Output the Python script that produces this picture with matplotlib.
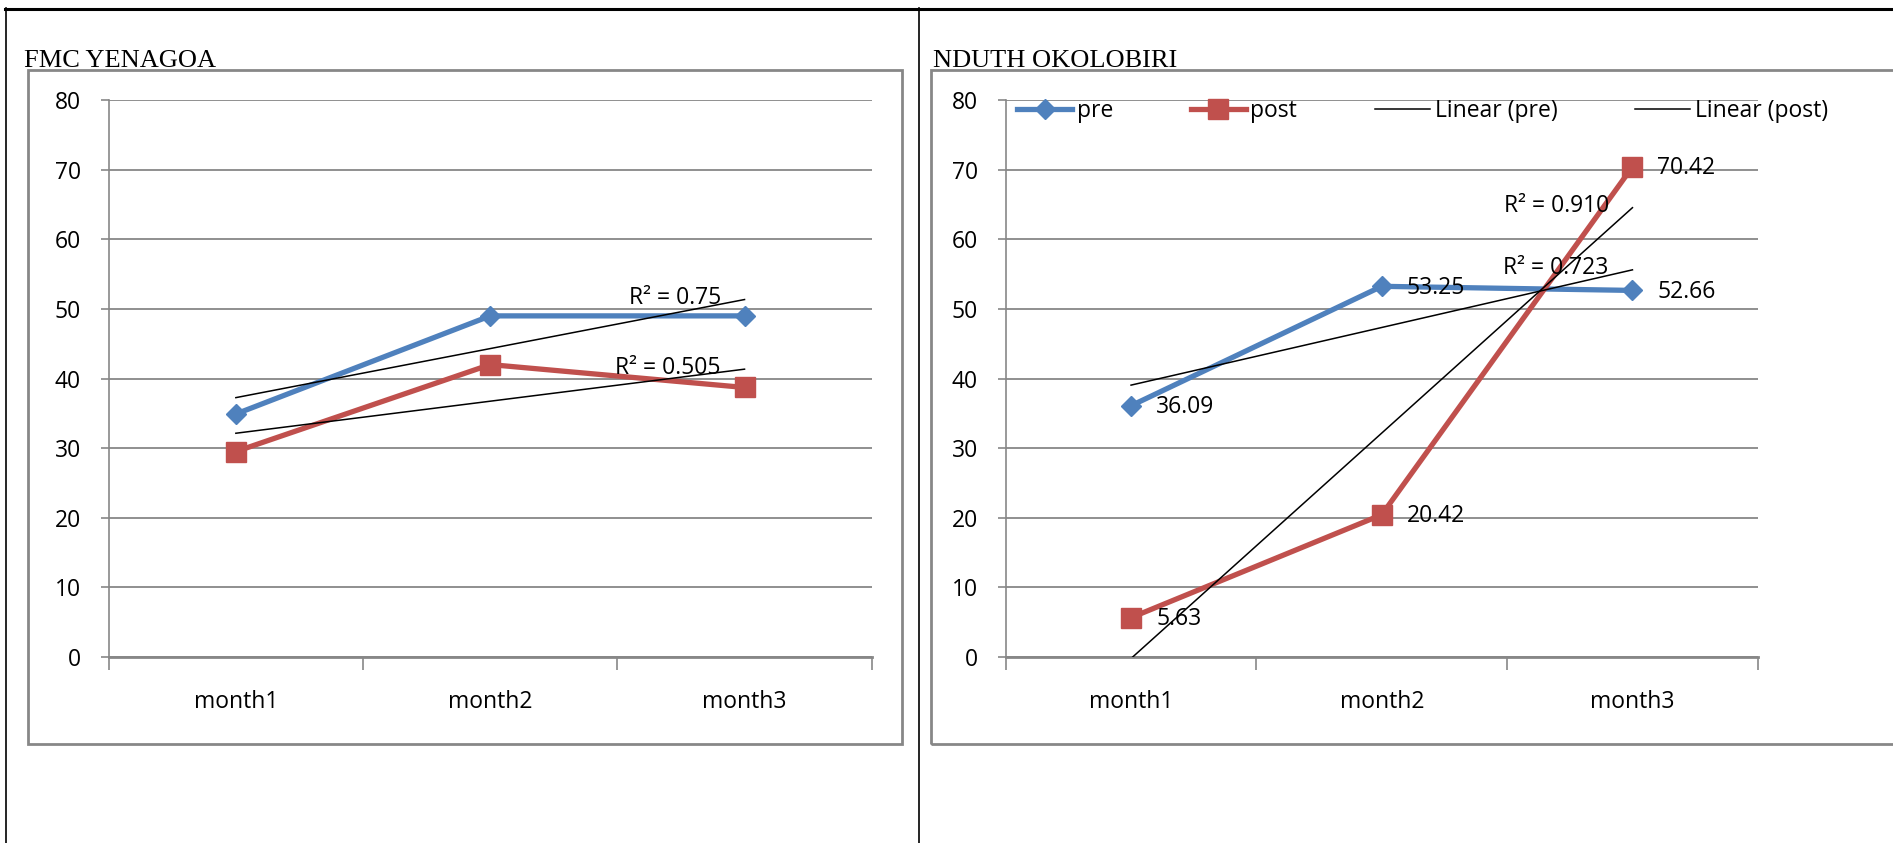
import numpy as np
import matplotlib
matplotlib.use('Agg')
import matplotlib.pyplot as plt
from matplotlib.patches import Rectangle
from matplotlib.lines import Line2D

# data
months = ['month1', 'month2', 'month3']
fmc_pre = [34.9, 49.0, 49.0]
fmc_post = [29.5, 42.0, 38.71]
nduth_pre = [36.09, 53.25, 52.66]
nduth_post = [5.63, 20.42, 70.42]
yticks = [0, 10, 20, 30, 40, 50, 60, 70, 80]

BLUE = '#4F81BD'
RED = '#C0504D'
GRAY = '#878787'
FS = 16.5

plt.rcParams['font.family'] = ['Open Sans', 'DejaVu Sans']

W, H = 1893, 843
fig = plt.figure(figsize=(W / 100, H / 100), dpi=100)


def fx(px):
    return px / W


def fy(py):
    return 1 - py / H


# table borders
fig.add_artist(Line2D([fx(5), 1], [fy(8.5), fy(8.5)], color='black', lw=2.2, transform=fig.transFigure))
fig.add_artist(Line2D([fx(6), fx(6)], [fy(8), 0], color='black', lw=1.2, transform=fig.transFigure))
fig.add_artist(Line2D([fx(918.7), fx(918.7)], [fy(8), 0], color='black', lw=1.2, transform=fig.transFigure))

# chart boxes
fig.add_artist(Rectangle((fx(27.8), fy(743.7)), fx(901.8) - fx(27.8), fy(70) - fy(743.7),
                         fill=False, edgecolor=GRAY, lw=2, transform=fig.transFigure))
fig.add_artist(Rectangle((fx(930.8), fy(743.7)), fx(1900) - fx(930.8), fy(70) - fy(743.7),
                         fill=False, edgecolor=GRAY, lw=2, transform=fig.transFigure))

fig.text(fx(24), fy(67), 'FMC YENAGOA', family='Liberation Serif', fontsize=19, va='baseline')
fig.text(fx(933), fy(67), 'NDUTH OKOLOBIRI', family='Liberation Serif', fontsize=19, va='baseline')


def setup(ax):
    ax.set_xlim(0.5, 3.5)
    ax.set_ylim(0, 80)
    ax.set_yticks(yticks)
    ax.set_xticks([1, 2, 3])
    ax.set_xticklabels(months)
    ax.set_xticks([0.5, 1.5, 2.5, 3.5], minor=True)
    ax.tick_params(axis='x', which='major', length=0, pad=24, labelsize=FS)
    ax.tick_params(axis='x', which='minor', length=9, width=1.2, color=GRAY, direction='out')
    ax.tick_params(axis='y', length=6, width=1.2, color=GRAY, pad=14, labelsize=FS)
    ax.grid(axis='y', color=GRAY, lw=1.3)
    ax.set_axisbelow(True)
    for s in ['top', 'right']:
        ax.spines[s].set_visible(False)
    for s in ['left', 'bottom']:
        ax.spines[s].set_color(GRAY)
    ax.spines['left'].set_linewidth(1.2)
    ax.spines['bottom'].set_linewidth(2)


def draw(ax, pre, post, labels=False):
    x = np.arange(1, len(months) + 1)
    ax.plot(x, pre, color=BLUE, lw=3.8, marker='D', ms=9.7, label='pre', zorder=3)
    ax.plot(x, post, color=RED, lw=3.8, marker='s', ms=14, label='post', zorder=3)
    for vals, name in [(pre, 'pre'), (post, 'post')]:
        k, b = np.polyfit(x, vals, 1)
        fit = k * x + b
        r2 = 1 - np.sum((np.array(vals) - fit) ** 2) / np.sum((np.array(vals) - np.mean(vals)) ** 2)
        xx = np.array([1, 3])
        ax.plot(xx, k * xx + b, color='black', lw=1.1, label='Linear (%s)' % name, zorder=4)
        txt = 'R² = %s' % ('%.3f' % r2).rstrip('0') if abs(r2 - 0.75) < 0.001 else 'R² = %.3f' % r2
        ax.annotate(txt, (3, k * 3 + b), xytext=(-17, 1), textcoords='offset points',
                    ha='right', va='center', fontsize=FS, zorder=5)
    if labels:
        for vals in [pre, post]:
            for xi, v in zip(x, vals):
                ax.annotate('%.2f' % v, (xi, v), xytext=(18, -1), textcoords='offset points',
                            ha='left', va='center', fontsize=FS, zorder=5)


ax1 = fig.add_axes([fx(108.7), fy(656.8), fx(871.7) - fx(108.7), fy(100.2) - fy(656.8)])
setup(ax1)
draw(ax1, fmc_pre, fmc_post)

ax2 = fig.add_axes([fx(1005.7), fy(656.8), fx(1757.8) - fx(1005.7), fy(100.2) - fy(656.8)])
setup(ax2)
draw(ax2, nduth_pre, nduth_post, labels=True)
ax2.legend(loc='center left', bbox_to_anchor=(fx(1017), fy(111)), bbox_transform=fig.transFigure,
           ncol=4, frameon=False, fontsize=FS, handlelength=2.4, handletextpad=0.2,
           columnspacing=3.4, numpoints=1, borderaxespad=0, borderpad=0)

fig.savefig('out.png', dpi=100)
